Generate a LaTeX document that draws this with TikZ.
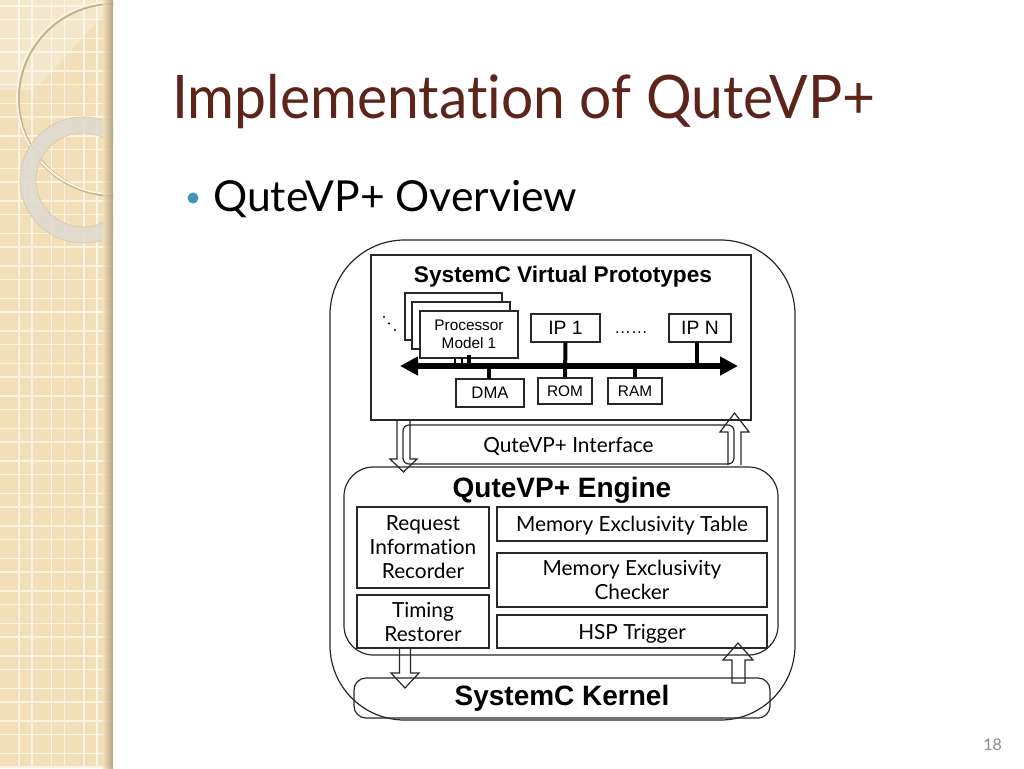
\documentclass[tikz,border=0pt]{standalone}
\usepackage{fontspec}
\setmainfont[Ligatures=NoCommon]{Lato}
\newfontfamily\gill[Ligatures=NoCommon]{Lato}
\newfontfamily\arial{Liberation Sans}
\usetikzlibrary{arrows.meta}
\definecolor{titlebrown}{RGB}{92,36,26}
\definecolor{bulletteal}{RGB}{64,150,182}
\definecolor{beige}{RGB}{242,222,183}
\definecolor{gridline}{RGB}{251,244,226}
\definecolor{linec}{RGB}{40,40,40}
\definecolor{ringgray}{RGB}{222,218,208}
\definecolor{tanc}{RGB}{196,176,138}
\definecolor{pagegray}{RGB}{138,138,138}
\tikzset{
  bx/.style={draw=linec, line width=0.9pt, inner sep=0pt, fill=white, align=center},
  gfont/.style={font=\gill\fontsize{15.6}{18}\selectfont, text depth=0pt},
  blk/.style={draw=linec, line width=0.9pt, line join=miter},
  conn/.style={line width=3pt, black},
  bus/.style={line width=4.2pt, {Triangle[length=13.5pt,width=13.5pt]}-{Triangle[length=13.5pt,width=13.5pt]}}
}
\begin{document}
\begin{tikzpicture}[x=0.75pt,y=-0.75pt]
\useasboundingbox (0,0) rectangle (1024,768);
\fill[white] (0,0) rectangle (1024,768);

% ---------- left decorative strip ----------
\begin{scope}
\clip (0,0) rectangle (113,768);
\fill[beige] (0,0) rectangle (113,768);
\foreach \k in {0,...,3}{
  \draw[gridline, line width=1.4pt] ({19+32.5*\k},0) -- ({19+32.5*\k},768);
  \draw[gridline, line width=1.4pt] ({32+32.5*\k},0) -- ({32+32.5*\k},768);
}
\foreach \k in {0,...,23}{
  \draw[gridline, line width=1.4pt] (0,{19.5+32.5*\k}) -- (113,{19.5+32.5*\k});
  \draw[gridline, line width=1.4pt] (0,{6+32.5*\k}) -- (113,{6+32.5*\k});
}
\fill[white, opacity=0.3] (0,0) -- (112,0) -- (104,14) .. controls (80,40) and (55,70) .. (33,90) -- (0,90) -- cycle;
\draw[tanc, line width=2.6pt] (114,99) circle (96);
\draw[gridline, line width=1.5pt] (113,98) circle (96);
\draw[ringgray, opacity=0.85, line width=12pt] (83,180) circle (55);
\draw[tanc!70, line width=0.5pt] (83,180) circle (63);
\draw[tanc!70, line width=0.5pt] (83,180) circle (47);
\shade[left color=beige, right color=tanc!85!black, opacity=0.8] (103,0) rectangle (113,768);
\end{scope}

% ---------- title & bullet ----------
\node[anchor=base west, inner sep=0pt, text=titlebrown, font=\gill\fontsize{45}{54}\selectfont] (title) at (172,118) {\scalebox{0.95}[1]{Implementation of QuteVP+}};
\fill[bulletteal] (193,198) circle (5.5);
\node[anchor=base west, inner sep=0pt, font=\gill\fontsize{32}{38}\selectfont] (sub) at (213,211) {QuteVP+ Overview};
\node[anchor=base west, inner sep=0pt, text=pagegray, font=\gill\fontsize{12}{14}\selectfont] (pg) at (983,750) {18};

% ---------- outer frame ----------
\node[bx, minimum width=348.75pt, minimum height=360pt, rounded corners=56pt] (outer) at (562.5,480) {};

% ---------- SystemC virtual prototypes ----------
\node[bx, minimum width=285pt, minimum height=123.75pt] (vp) at (561,337.5) {};
\node[font=\arial\bfseries\fontsize{17}{20}\selectfont] (vptitle) at (563,277) {SystemC Virtual Prototypes};
\node[bx, minimum width=72.75pt, minimum height=35.25pt] (p3) at (453.5,316.5) {};
\node[bx, minimum width=73.5pt, minimum height=35.25pt] (p2) at (461,325.5) {};
\node[bx, minimum width=73.5pt, minimum height=35.25pt, font=\arial\fontsize{11.5}{13.5}\selectfont] (p1) at (469,334.5) {Processor\\Model 1};
\node[bx, minimum width=51.75pt, minimum height=21pt, font=\arial\fontsize{14.5}{17}\selectfont] (ip1) at (565.5,328) {IP 1};
\node[bx, minimum width=46.5pt, minimum height=21pt, font=\arial\fontsize{14.5}{17}\selectfont] (ipn) at (700,328) {IP N};
\node[font=\arial\fontsize{12.5}{15}\selectfont] (dots) at (631,333) {……};
\node[bx, minimum width=51pt, minimum height=21pt, font=\arial\fontsize{12.5}{15}\selectfont] (dma) at (490,393) {DMA};
\node[bx, minimum width=40.5pt, minimum height=19.5pt, font=\arial\fontsize{11.5}{14}\selectfont] (rom) at (565,391) {ROM};
\node[bx, minimum width=40.5pt, minimum height=19.5pt, font=\arial\fontsize{11.5}{14}\selectfont] (ram) at (635,391) {RAM};
\fill (384,317) circle (1.2) (389,323.5) circle (1.2) (395,330) circle (1.2);

\coordinate (busL) at (400,366);
\coordinate (busR) at (738,366);
\draw[bus] (busL) -- (busR);
\draw[conn] (ip1.south) -- (rom.north);
\draw[conn] (697,342) -- (697,366);
\draw[conn] (489,366) -- (489,379);
\draw[conn] (635,366) -- (ram.north);
\draw[line width=2pt] (455,358) -- (455,366) (462,358) -- (462,366);
\draw[line width=2.4pt] (469,355) -- (469,366);

% ---------- interface ----------
\node[bx, minimum width=248.25pt, minimum height=29.25pt, rounded corners=4.5pt, fill=none, gfont] (iface) at (568.5,444.5) {QuteVP+ Interface};
\draw[blk] (397,420) -- (397,459) -- (390,459) -- (403.5,472) -- (417,459) -- (410,459) -- (410,420);
\draw[blk] (728,465) -- (728,432) -- (720,432) -- (734.5,413) -- (749,432) -- (741,432) -- (741,465);

% ---------- engine ----------
\node[bx, minimum width=325.5pt, minimum height=141pt, rounded corners=22pt, fill=none] (engine) at (561,561) {};
\node[font=\arial\bfseries\fontsize{21}{25}\selectfont] (engtitle) at (562,490) {QuteVP+ Engine};
\node[bx, minimum width=99pt, minimum height=60.75pt, gfont] (rir) at (423,547.5) {Request\\Information\\Recorder};
\node[bx, minimum width=99pt, minimum height=39.75pt, gfont] (tr) at (423,621.5) {Timing\\Restorer};
\node[bx, minimum width=202.5pt, minimum height=25.5pt, gfont] (met) at (632,524) {Memory Exclusivity Table};
\node[bx, minimum width=202.5pt, minimum height=40.5pt, gfont] (mec) at (632,580) {Memory Exclusivity\\Checker};
\node[bx, minimum width=202.5pt, minimum height=24.75pt, gfont] (hsp) at (632,631.5) {HSP Trigger};

% ---------- kernel ----------
\node[bx, minimum width=312pt, minimum height=30pt, rounded corners=9pt, fill=none, font=\arial\bfseries\fontsize{21}{25}\selectfont] (kernel) at (562,698) {SystemC Kernel};
\draw[blk] (399.5,648) -- (399.5,673) -- (391,673) -- (405,688) -- (419,673) -- (410.5,673) -- (410.5,648);
\draw[blk] (732,683) -- (732,660) -- (723,660) -- (738,643) -- (753,660) -- (745,660) -- (745,683) -- cycle;
\end{tikzpicture}
\end{document}
